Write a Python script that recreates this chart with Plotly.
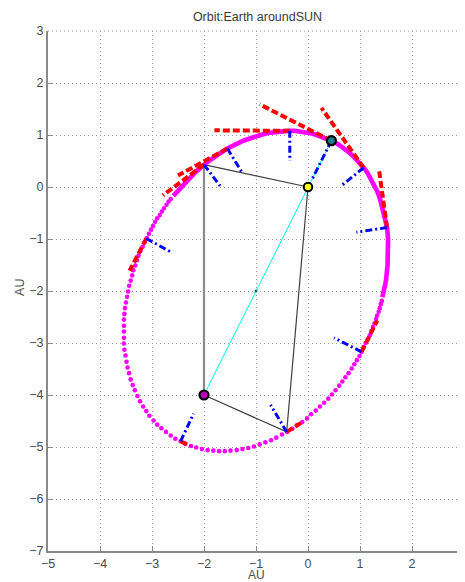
import plotly.graph_objects as go

# ---- data (AU) ----
# continuous (dense) part of the orbit, through perihelion
ORBIT_DENSE_X = [1.43, 1.50, 1.53, 1.54, 1.54, 1.52, 1.48, 1.44, 1.39, 1.34, 1.28, 1.21, 1.15, 1.08, 1.00,
                 0.93, 0.85, 0.77, 0.69, 0.61, 0.52, 0.45, 0.36, 0.26, 0.17, 0.07, -0.04, -0.15, -0.26, -0.38,
                 -0.50, -0.63, -0.77, -0.91, -1.06, -1.22, -1.39, -1.57, -1.75, -1.95, -2.16, -2.37, -2.59]
ORBIT_DENSE_Y = [-2.12, -1.80, -1.50, -1.24, -1.00, -0.78, -0.59, -0.41, -0.25, -0.10, 0.03, 0.15, 0.26, 0.36, 0.45,
                 0.54, 0.61, 0.68, 0.75, 0.80, 0.86, 0.89, 0.94, 0.97, 1.00, 1.03, 1.05, 1.07, 1.08, 1.08,
                 1.07, 1.06, 1.04, 1.00, 0.96, 0.90, 0.82, 0.73, 0.61, 0.47, 0.29, 0.08, -0.17]
# separated dots of the far part of the orbit
ORBIT_DOTS_X = [-2.64, -2.68, -2.72, -2.77, -2.81, -2.85, -2.90, -2.94, -2.98, -3.02,
                -3.06, -3.10, -3.14, -3.18, -3.22, -3.26, -3.29, -3.32, -3.36, -3.38,
                -3.41, -3.44, -3.46, -3.48, -3.50, -3.52, -3.53, -3.54, -3.54, -3.54,
                -3.54, -3.54, -3.53, -3.51, -3.49, -3.47, -3.44, -3.41, -3.37, -3.33,
                -3.28, -3.23, -3.17, -3.11, -3.05, -2.97, -2.90, -2.82, -2.73, -2.64,
                -2.55, -2.45, -2.36, -2.25, -2.15, -2.04, -1.93, -1.82, -1.71, -1.60,
                -1.49, -1.37, -1.26, -1.15, -1.04, -0.93, -0.82, -0.71, -0.61, -0.50,
                -0.40, -0.30, -0.21, -0.11, -0.02, 0.06, 0.15, 0.23, 0.31, 0.39,
                0.46, 0.53, 0.60, 0.66, 0.72, 0.78, 0.84, 0.89, 0.94, 0.99,
                1.03, 1.07, 1.11, 1.15, 1.19, 1.22, 1.25, 1.28, 1.31, 1.33,
                1.36, 1.38, 1.40, 1.42]
ORBIT_DOTS_Y = [-0.23, -0.28, -0.34, -0.41, -0.47, -0.54, -0.60, -0.67, -0.75, -0.82,
                -0.90, -0.98, -1.06, -1.15, -1.23, -1.32, -1.41, -1.51, -1.60, -1.70,
                -1.80, -1.90, -2.01, -2.11, -2.22, -2.33, -2.44, -2.55, -2.67, -2.78,
                -2.90, -3.01, -3.13, -3.24, -3.36, -3.47, -3.58, -3.70, -3.81, -3.91,
                -4.02, -4.12, -4.22, -4.31, -4.40, -4.49, -4.57, -4.64, -4.71, -4.78,
                -4.84, -4.89, -4.94, -4.98, -5.01, -5.04, -5.06, -5.07, -5.08, -5.08,
                -5.07, -5.06, -5.04, -5.02, -4.99, -4.95, -4.91, -4.87, -4.82, -4.76,
                -4.71, -4.65, -4.58, -4.52, -4.45, -4.37, -4.30, -4.22, -4.15, -4.07,
                -3.99, -3.91, -3.82, -3.74, -3.66, -3.58, -3.49, -3.41, -3.33, -3.25,
                -3.17, -3.08, -3.00, -2.93, -2.85, -2.77, -2.69, -2.62, -2.54, -2.47,
                -2.40, -2.33, -2.25, -2.19]

# orbit points with tangent (red) and normal (blue) segments
PT_X = [0.45, 1.07, 1.52, -0.35, -1.55, -2.00, -3.11, -2.45, -0.41, 1.03]
PT_Y = [0.89, 0.37, -0.78, 1.08, 0.74, 0.43, -0.99, -4.89, -4.71, -3.17]
TAN_END_X = [-0.93, 0.26, 1.37, -1.80, -2.50, -2.79, -3.43, -2.27, -0.09, 1.33]
TAN_END_Y = [1.59, 1.52, 0.30, 1.09, 0.22, -0.16, -1.61, -4.98, -4.51, -2.57]
NRM_END_X = [0.07, 0.65, 0.93, -0.35, -1.27, -1.69, -2.62, -2.20, -0.72, 0.50]
NRM_END_Y = [0.13, 0.03, -0.87, 0.50, 0.28, 0.02, -1.26, -4.36, -4.19, -2.90]

SUN = (0.0, 0.0)
FOCUS2 = (-2.0, -4.0)
PERIHELION = (0.45, 0.89)
CENTER = (-1.0, -2.0)
QUAD_X = [0.0, -2.00, -2.0, -0.41, 0.0]   # Sun -> E -> F2 -> I -> Sun
QUAD_Y = [0.0, 0.43, -4.0, -4.71, 0.0]

X_TICKS = [-5, -4, -3, -2, -1, 0, 1, 2, 3]
Y_TICKS = [3, 2, 1, 0, -1, -2, -3, -4, -5, -6, -7]

FONT = "Liberation Sans, Arial, Helvetica, sans-serif"
TXT = "#4a4a4a"
GRID = "#9a9a9a"

# the page body adds an 8px offset: figure is 8px smaller, margins shifted
FIG_W, FIG_H = 457, 574


def segs(x0, y0, x1, y1):
    xs, ys = [], []
    for a, b, c, d in zip(x0, y0, x1, y1):
        xs += [a, c, None]
        ys += [b, d, None]
    return xs, ys


fig = go.Figure()

# triangle / string lines
fig.add_trace(go.Scatter(x=QUAD_X[0:2], y=QUAD_Y[0:2], mode="lines",
                         line=dict(color="#404040", width=1.2)))
fig.add_trace(go.Scatter(x=QUAD_X[1:3], y=QUAD_Y[1:3], mode="lines",
                         line=dict(color="#8c8c8c", width=2.2)))
fig.add_trace(go.Scatter(x=QUAD_X[2:5], y=QUAD_Y[2:5], mode="lines",
                         line=dict(color="#404040", width=1.2)))
# major axis line
fig.add_trace(go.Scatter(x=[PERIHELION[0], FOCUS2[0]], y=[PERIHELION[1], FOCUS2[1]], mode="lines",
                         line=dict(color="#00ffff", width=1)))
fig.add_trace(go.Scatter(x=[CENTER[0]], y=[CENTER[1]], mode="markers",
                         marker=dict(color="#006b6b", size=3)))

# orbit
fig.add_trace(go.Scatter(x=ORBIT_DENSE_X, y=ORBIT_DENSE_Y, mode="lines",
                         line=dict(color="#ff00ff", width=4.6)))
fig.add_trace(go.Scatter(x=ORBIT_DOTS_X, y=ORBIT_DOTS_Y, mode="markers",
                         marker=dict(color="#ff00ff", size=4.6, line=dict(width=0))))

# tangents (red) and normals (blue)
tx, ty = segs(PT_X, PT_Y, TAN_END_X, TAN_END_Y)
fig.add_trace(go.Scatter(x=tx, y=ty, mode="lines", connectgaps=False,
                         line=dict(color="#ff0000", width=4, dash="7px,3px")))
nx, ny = segs(PT_X, PT_Y, NRM_END_X, NRM_END_Y)
fig.add_trace(go.Scatter(x=nx, y=ny, mode="lines", connectgaps=False,
                         line=dict(color="#0000ff", width=3, dash="7px,3px,2px,3px")))

# markers
fig.add_trace(go.Scatter(x=[PERIHELION[0]], y=[PERIHELION[1]], mode="markers",
                         marker=dict(color="#1a7f8f", size=9, line=dict(color="black", width=2.2))))
fig.add_trace(go.Scatter(x=[FOCUS2[0]], y=[FOCUS2[1]], mode="markers",
                         marker=dict(color="#c000c0", size=9, line=dict(color="black", width=2.2))))
fig.add_trace(go.Scatter(x=[SUN[0]], y=[SUN[1]], mode="markers",
                         marker=dict(color="#ffff00", size=8.5, line=dict(color="black", width=2))))

axis_common = dict(showgrid=True, gridcolor=GRID, gridwidth=1, griddash="1px,3px",
                   zeroline=False, showline=True, linecolor="#8a8a8a", linewidth=2,
                   ticks="inside", ticklen=5, tickwidth=1, tickcolor="#8a8a8a",
                   tickfont=dict(family=FONT, size=12.5, color=TXT), fixedrange=True,
                   automargin=False)
fig.update_xaxes(range=[-5, 3], tickmode="array", tickvals=X_TICKS, **axis_common)
fig.update_yaxes(range=[-7, 3], tickmode="array", tickvals=Y_TICKS, **axis_common)

fig.update_layout(
    width=FIG_W, height=FIG_H,
    margin=dict(l=40, r=1, t=23, b=31, pad=0),
    paper_bgcolor="white", plot_bgcolor="white",
    showlegend=False,
    title=dict(text="Orbit:Earth aroundSUN", x=249.5 / FIG_W, xanchor="center",
               y=1 - 9 / FIG_H, yanchor="middle",
               font=dict(family=FONT, size=12.5, color="#3a3a3a")),
    shapes=[
        dict(type="line", xref="paper", yref="paper", x0=0, x1=1, y0=1, y1=1, layer="below",
             line=dict(color=GRID, width=1, dash="1px,3px")),
        dict(type="line", xref="paper", yref="paper", x0=1, x1=1, y0=0, y1=1, layer="below",
             line=dict(color=GRID, width=1, dash="1px,3px")),
    ],
    annotations=[
        dict(text="AU", xref="paper", yref="paper", x=0.5, y=-0.0471, showarrow=False,
             borderpad=0, xanchor="center", yanchor="middle",
             font=dict(family=FONT, size=12, color=TXT)),
        dict(text="AU", xref="paper", yref="paper", x=-0.0673, y=0.506, showarrow=False,
             borderpad=0, textangle=-90, xanchor="center", yanchor="middle",
             font=dict(family=FONT, size=12.5, color=TXT)),
    ],
)

fig.write_html("out.html")
